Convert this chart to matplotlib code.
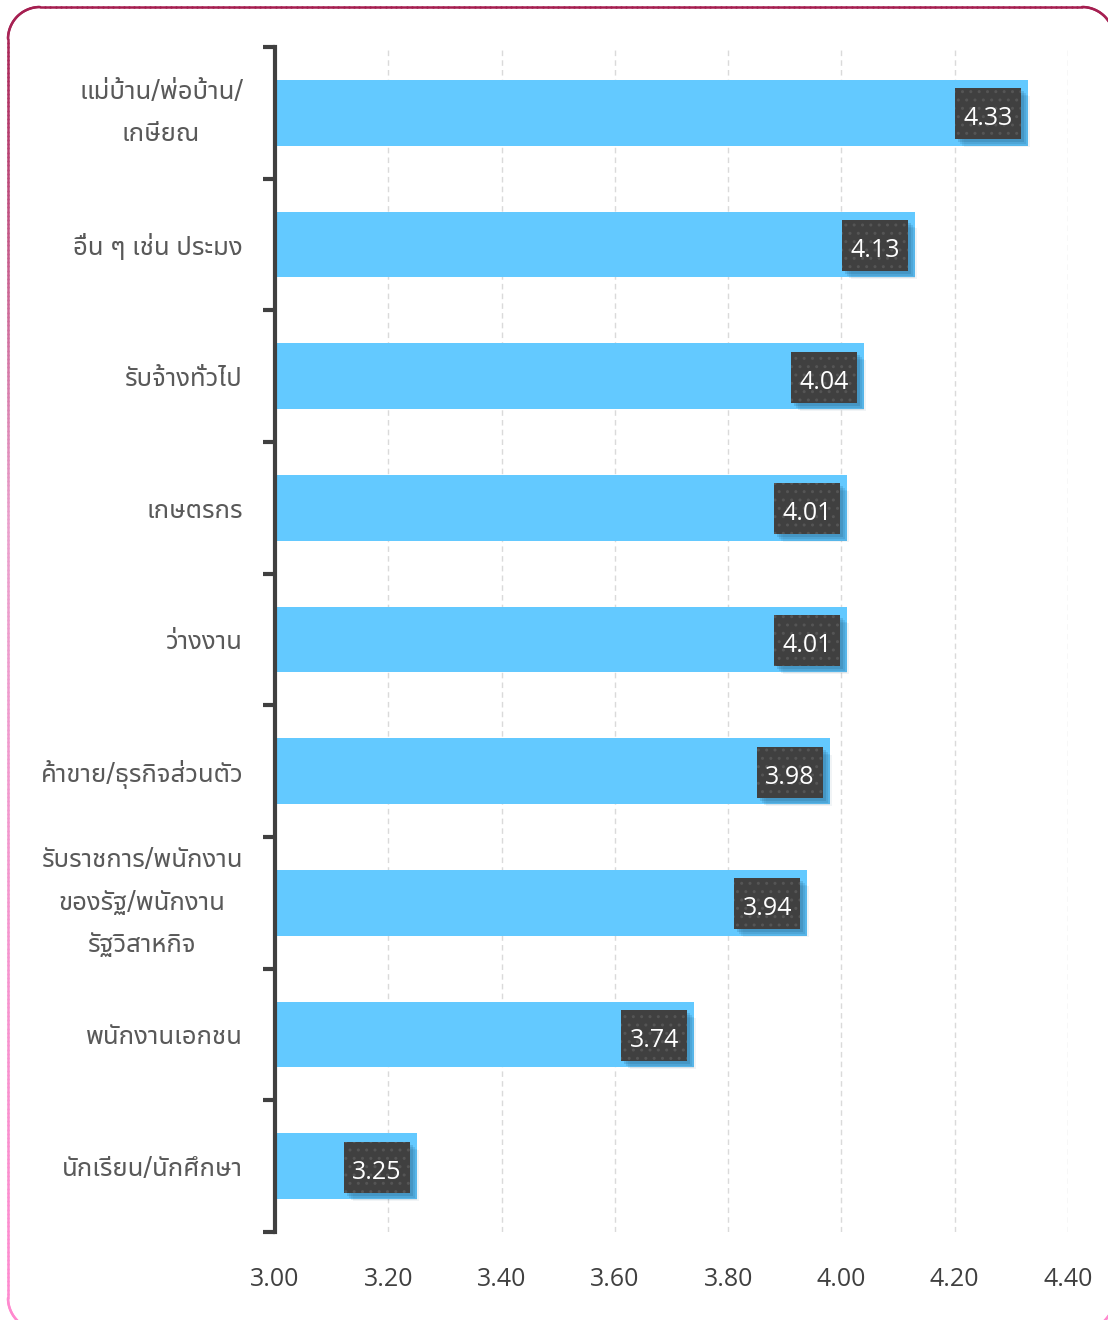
import numpy as np
import matplotlib
matplotlib.use("Agg")
import matplotlib.pyplot as plt
from matplotlib import font_manager, ft2font
from matplotlib.collections import LineCollection
from matplotlib.patches import Rectangle
from matplotlib.colors import to_rgb

# ---- data -------------------------------------------------------------
categories = [
    "แม่บ้าน/พ่อบ้าน/\nเกษียณ",
    "อื่น ๆ เช่น ประมง",
    "รับจ้างทั่วไป",
    "เกษตรกร",
    "ว่างงาน",
    "ค้าขาย/ธุรกิจส่วนตัว",
    "รับราชการ/พนักงาน\nของรัฐ/พนักงาน\nรัฐวิสาหกิจ",
    "พนักงานเอกชน",
    "นักเรียน/นักศึกษา",
]
scores = [4.33, 4.13, 4.04, 4.01, 4.01, 3.98, 3.94, 3.74, 3.25]
x_ticks = [3.00, 3.20, 3.40, 3.60, 3.80, 4.00, 4.20, 4.40]
x_tick_labels = ["3.00", "3.20", "3.40", "3.60", "3.80", "4.00", "4.20", "4.40"]


# ---- fonts ------------------------------------------------------------
def thai_family():
    preferred = ["Noto Sans Thai UI", "Noto Sans Thai", "Leelawadee UI", "Tahoma",
                 "Sarabun", "Loma", "Garuda", "Umpush", "Waree", "Norasi", "Kinnari"]
    found = []
    for fe in font_manager.fontManager.ttflist:
        try:
            cmap = ft2font.FT2Font(fe.fname).get_charmap()
        except Exception:
            continue
        if 0x0E01 in cmap and 0x0E48 in cmap:
            found.append(fe.name)
    for name in preferred:
        if name in found:
            return name
    return found[0] if found else None


thai = thai_family()
num_font = "Open Sans"
label_families = [thai, "DejaVu Sans"] if thai else ["DejaVu Sans"]

# ---- figure -----------------------------------------------------------
W, H = 1108, 1320
fig = plt.figure(figsize=(W / 100, H / 100), dpi=100, facecolor="white")

# gradient rounded frame, drawn in pixel space
left, top, right, bottom, r = 8, 7, 1114, 1330, 32


def arc(cx, cy, a0, a1, n=40):
    t = np.radians(np.linspace(a0, a1, n))
    return np.column_stack([cx + r * np.cos(t), cy + r * np.sin(t)])


pts = np.vstack([
    np.column_stack([np.linspace(left + r, right - r, 200), np.full(200, top)]),
    arc(right - r, top + r, -90, 0),
    np.column_stack([np.full(300, right), np.linspace(top + r, bottom - r, 300)]),
    arc(right - r, bottom - r, 0, 90),
    np.column_stack([np.linspace(right - r, left + r, 200), np.full(200, bottom)]),
    arc(left + r, bottom - r, 90, 180),
    np.column_stack([np.full(300, left), np.linspace(bottom - r, top + r, 300)]),
    arc(left + r, top + r, 180, 270),
])
segs = np.stack([pts[:-1], pts[1:]], axis=1)
ymid = segs[:, :, 1].mean(axis=1)
c_top, c_mid, c_bot = np.array(to_rgb("#A51E50")), np.array(to_rgb("#EAA0CC")), np.array(to_rgb("#FF8ACF"))
cols = []
for yv in ymid:
    if yv < 520:
        f = max(0.0, (yv - top) / (520 - top))
        cols.append(c_top + (c_mid - c_top) * f)
    else:
        f = min(1.0, (yv - 520) / (1320 - 520))
        cols.append(c_mid + (c_bot - c_mid) * f)
segs_fig = segs.copy()
segs_fig[:, :, 0] /= W
segs_fig[:, :, 1] = 1 - segs_fig[:, :, 1] / H
frame = LineCollection(segs_fig, colors=cols, linewidths=1.8, transform=fig.transFigure,
                       capstyle="round")
fig.add_artist(frame)

ax = fig.add_axes([275 / W, 1 - 1232 / H, (1068 - 275) / W, (1232 - 47) / H])
ax.set_facecolor("none")

n = len(categories)
ypos = np.arange(n)
ax.barh(ypos, np.array(scores) - 3.0, left=3.0, height=0.5, color="#63C9FF", zorder=2)

ax.set_xlim(3.0, 4.4)
ax.set_ylim(n - 0.5, -0.5)

# grid
ax.set_xticks(x_ticks)
ax.set_xticklabels(x_tick_labels, fontsize=18, color="#404040", family=num_font)
ax.tick_params(axis="x", length=0, pad=25)
for xv in x_ticks[1:]:
    ax.axvline(xv, color="#dadada", lw=1, ls=(0, (4, 3)), zorder=1)

# y axis: bracket-style ticks at category boundaries
ax.set_yticks(ypos)
ylabels = ax.set_yticklabels(categories, fontsize=18.5, color="#595959", family=label_families,
                             multialignment="center", linespacing=1.82)
for lbl in ylabels:
    if "\n" in lbl.get_text():
        lbl.set_verticalalignment("center")
ax.tick_params(axis="y", which="major", length=0, pad=23)
ax.set_yticks(np.arange(-0.5, n, 1.0), minor=True)
ax.tick_params(axis="y", which="minor", length=9, width=3, color="#404040", direction="out")

for s in ["top", "right", "bottom"]:
    ax.spines[s].set_visible(False)
ax.spines["left"].set_color("#404040")
ax.spines["left"].set_linewidth(3)

# value badges
px_x = (1068 - 275) / 1.4           # pixels per x unit
px_y = (1232 - 47) / n              # pixels per category band
bw, bh, gap = 66 / px_x, 51 / px_y, 7 / px_x
for yi, v in zip(ypos, scores):
    x0 = v - gap - bw
    y0 = yi - bh / 2 + 1 / px_y
    for k, (dx, dy, a) in enumerate([(3, 3, 0.18), (5, 5, 0.14), (7, 7, 0.10), (9, 8, 0.06)]):
        ax.add_patch(Rectangle((x0 + dx / px_x, y0 + dy / px_y), bw, bh,
                               facecolor="#1d4f73", edgecolor="none", alpha=a, zorder=3))
    ax.add_patch(Rectangle((x0, y0), bw, bh, facecolor="#404040", edgecolor="#555555",
                           linewidth=0, hatch="..", zorder=4))
    ax.text(x0 + bw / 2, yi + 0.045, f"{v:.2f}", ha="center", va="center", fontsize=18,
            color="white", family=num_font, zorder=5)

fig.savefig("out.png", dpi=100, facecolor="white")
